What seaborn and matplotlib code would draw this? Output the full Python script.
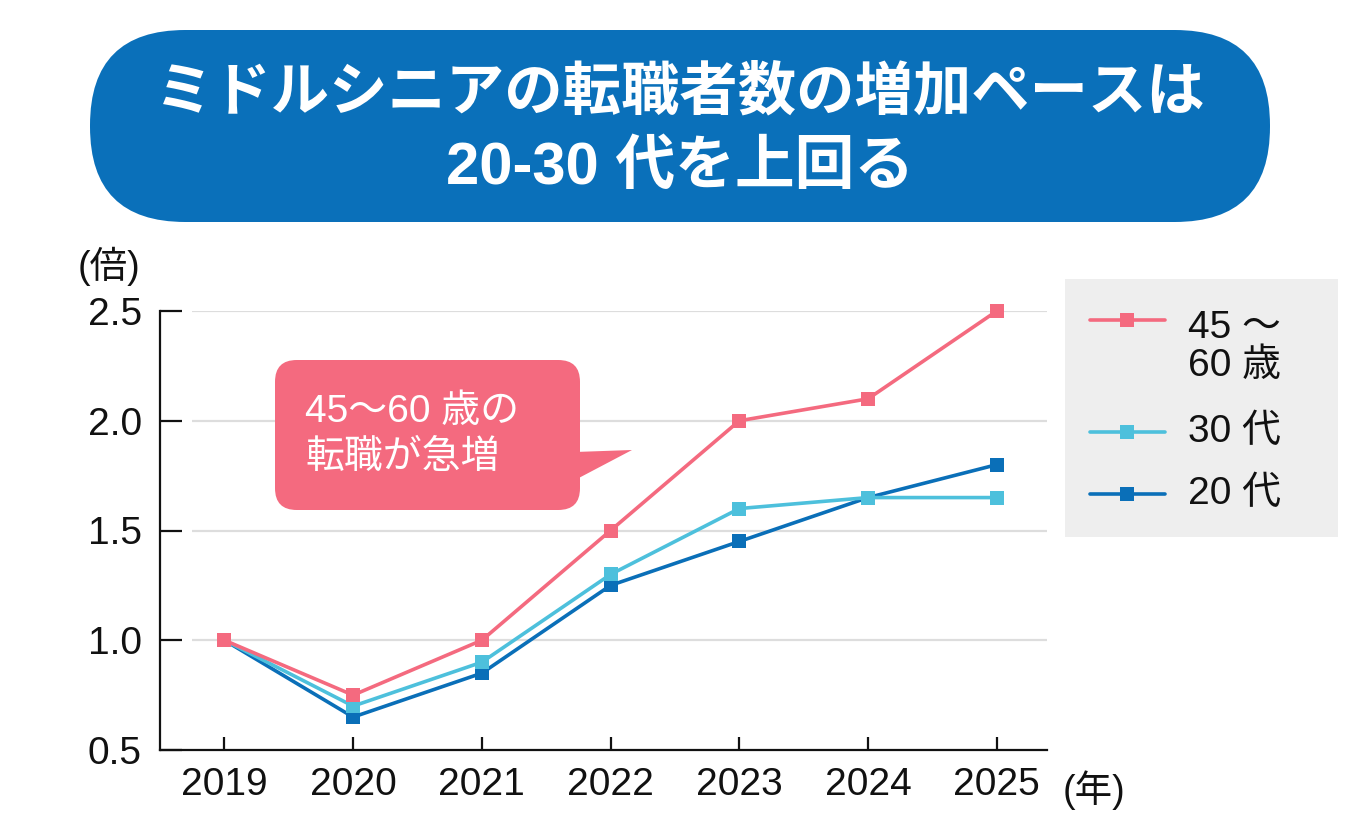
import numpy as np
import pandas as pd
import matplotlib
matplotlib.use("Agg")
import matplotlib.pyplot as plt
import seaborn as sns
from matplotlib.patches import FancyBboxPatch, Polygon, Rectangle
from matplotlib.lines import Line2D

# ---------------- data ----------------
years = [2019, 2020, 2021, 2022, 2023, 2024, 2025]
s_4560 = [1.0, 0.75, 1.0, 1.5, 2.0, 2.1, 2.5]
s_30 = [1.0, 0.70, 0.90, 1.30, 1.60, 1.65, 1.65]
s_20 = [1.0, 0.65, 0.85, 1.25, 1.45, 1.65, 1.80]
series_names = ["20代", "30代", "45～60歳"]
legend_labels = ["45 ～\n60 歳", "30 代", "20 代"]
y_ticks = [0.5, 1.0, 1.5, 2.0, 2.5]
y_tick_labels = ["0.5", "1.0", "1.5", "2.0", "2.5"]
title_lines = ["ミドルシニアの転職者数の増加ペースは", "20-30 代を上回る"]
callout_text = "45～60 歳の\n転職が急増"

C_PINK = "#F46A7F"
C_LBLUE = "#4DC0DC"
C_BLUE = "#0A6FB8"
C_BANNER = "#0A70BA"
palette = {"20代": C_BLUE, "30代": C_LBLUE, "45～60歳": C_PINK}

df = pd.DataFrame({
    "year": years * 3,
    "value": s_20 + s_30 + s_4560,
    "series": [series_names[0]] * 7 + [series_names[1]] * 7 + [series_names[2]] * 7,
})

# ---------------- style ----------------
sns.set_theme(style="ticks")
FONTS = ["Liberation Sans", "Noto Sans CJK JP", "DejaVu Sans"]
plt.rcParams["font.family"] = FONTS
plt.rcParams["xtick.bottom"] = True
plt.rcParams["ytick.left"] = True
INK = "#111111"

W, H = 1360, 840
fig = plt.figure(figsize=(W / 100, H / 100), dpi=100)
fig.patch.set_facecolor("white")


def px(x, y):
    return (x / W, 1 - y / H)


ax_l, ax_r, ax_t, ax_b = 160, 1047, 311, 750
ax = fig.add_axes([ax_l / W, 1 - ax_b / H, (ax_r - ax_l) / W, (ax_b - ax_t) / H])

sns.lineplot(data=df, x="year", y="value", hue="series", hue_order=series_names,
             palette=palette, marker="s", markersize=9.5, markeredgewidth=0,
             linewidth=2.6, ax=ax, legend=False, zorder=3)
for ln in ax.lines:
    ln.set_clip_on(False)

ax.set_xlim(2018.5, 2025.39)
ax.set_ylim(0.5, 2.5)
ax.set_xticks(years)
ax.set_xticklabels([str(y) for y in years])
ax.set_yticks(y_ticks)
ax.set_yticklabels(y_tick_labels)
ax.set_xlabel("")
ax.set_ylabel("")

for side in ["top", "right"]:
    ax.spines[side].set_visible(False)
for side in ["left", "bottom"]:
    ax.spines[side].set_color(INK)
    ax.spines[side].set_linewidth(1.6)

ax.tick_params(axis="y", which="major", left=True, direction="in", length=16,
               width=1.6, color=INK, labelsize=28, pad=13, labelcolor=INK)
ax.tick_params(axis="x", which="major", bottom=True, direction="in",
               length=9.5, width=1.6, color=INK, labelsize=28, pad=12,
               labelcolor=INK)

# gridlines starting slightly right of the spine
ax.hlines(y_ticks[1:], 0.036, 1.0, transform=ax.get_yaxis_transform(),
          colors="#DDDDDD", linewidth=1.6, zorder=1)

# axis unit labels
fig.text(*px(78, 266), "(倍)", fontsize=27, color=INK, ha="left", va="center")
fig.text(*px(1063, 790), "(年)", fontsize=27, color=INK, ha="left", va="center")

# ---------------- title banner ----------------
bx0, by0, bx1, by1 = 90, 30, 1270, 222
banner = FancyBboxPatch(px(bx0, by1), (bx1 - bx0) / W, (by1 - by0) / H,
                        boxstyle="round,pad=0,rounding_size=0.07",
                        mutation_aspect=W / H,
                        transform=fig.transFigure, facecolor=C_BANNER,
                        edgecolor="none", zorder=0)
fig.patches.append(banner)
fig.text(*px(680, 94), title_lines[0], fontsize=42, fontweight="bold",
         color="white", ha="center", va="center")
fig.text(*px(680, 168), title_lines[1], fontsize=43, fontweight="bold",
         color="white", ha="center", va="center")

# ---------------- callout ----------------
cx0, cy0, cx1, cy1 = 275, 360, 580, 510
cbox = FancyBboxPatch(px(cx0, cy1), (cx1 - cx0) / W, (cy1 - cy0) / H,
                      boxstyle="round,pad=0,rounding_size=0.016",
                      mutation_aspect=W / H,
                      transform=fig.transFigure, facecolor=C_PINK,
                      edgecolor="none", zorder=5)
fig.patches.append(cbox)
tri = Polygon([px(575, 452), px(632, 450), px(575, 480)], closed=True,
              transform=fig.transFigure, facecolor=C_PINK, edgecolor="none",
              zorder=5)
fig.patches.append(tri)
fig.text(*px(305, 435), callout_text, fontsize=28, color="white",
         ha="left", va="center", linespacing=1.35, zorder=6)

# ---------------- legend ----------------
lx0, ly0, lx1, ly1 = 1065, 279, 1338, 537
lbox = Rectangle(px(lx0, ly1), (lx1 - lx0) / W, (ly1 - ly0) / H,
                 transform=fig.transFigure, facecolor="#EEEEEE",
                 edgecolor="none", zorder=0)
fig.patches.append(lbox)
leg_colors = [C_PINK, C_LBLUE, C_BLUE]
leg_line_y = [320, 432, 494]
leg_text_y = [347, 432, 494]
for col, yl, yt, lab in zip(leg_colors, leg_line_y, leg_text_y, legend_labels):
    (xa, ya), (xb, _) = px(1090, yl), px(1165, yl)
    fig.add_artist(Line2D([xa, xb], [ya, ya], color=col, linewidth=2.6,
                          transform=fig.transFigure))
    xm, _ = px(1127, yl)
    fig.add_artist(Line2D([xm], [ya], color=col, marker="s", markersize=9.5,
                          markeredgewidth=0, transform=fig.transFigure))
    fig.text(*px(1188, yt), lab, fontsize=28, color=INK, ha="left",
             va="center", linespacing=1.1)

fig.savefig("out.png", dpi=100, facecolor="white")
